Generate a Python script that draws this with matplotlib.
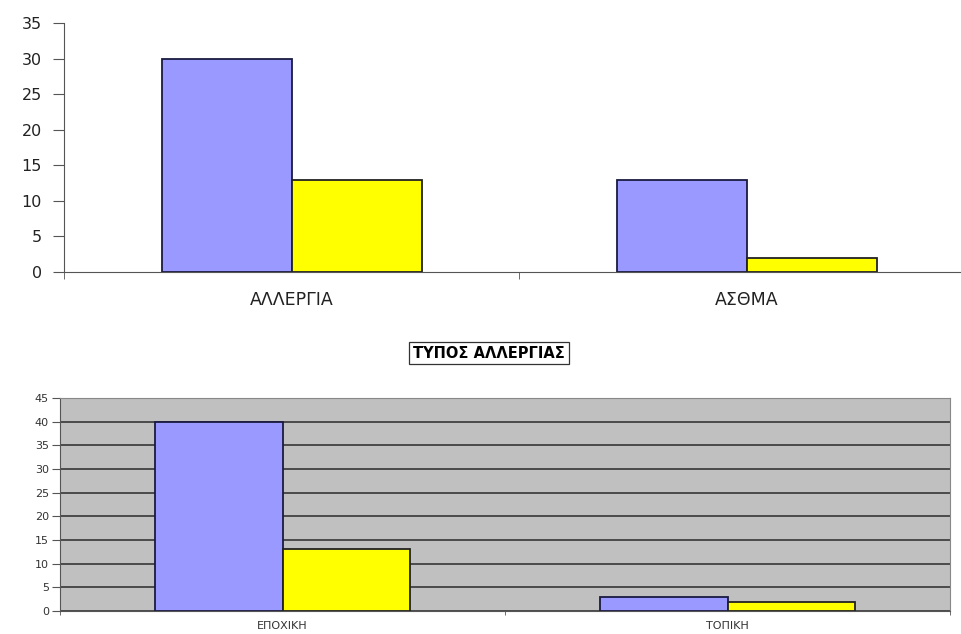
import matplotlib.pyplot as plt
import numpy as np

# top chart data
top_cats = ["ΑΛΛΕΡΓΙΑ", "ΑΣΘΜΑ"]
top_blue = [30, 13]
top_yellow = [13, 2]

# bottom chart data
bot_title = "ΤΥΠΟΣ ΑΛΛΕΡΓΙΑΣ"
bot_cats = ["ΕΠΟΧΙΚΗ", "ΤΟΠΙΚΗ"]
bot_blue = [40, 3]
bot_yellow = [13, 2]

blue = "#9999FF"
yellow = "#FFFF00"
edge = "#1a1a40"
w = 1 / 3.5

plt.rcParams['font.family'] = ['DejaVu Sans']

fig = plt.figure(figsize=(9.61, 6.34), dpi=100)

# --- top chart
ax1 = fig.add_axes([64/961, 1 - 272/634, 910/961, 249/634])
x = np.arange(len(top_cats))
ax1.bar(x - w/2, top_blue, w, color=blue, edgecolor=edge, linewidth=1.3)
ax1.bar(x + w/2, top_yellow, w, color=yellow, edgecolor="#222222", linewidth=1.3)
ax1.set_xlim(-0.5, 1.5)
ax1.set_ylim(0, 35)
ax1.set_yticks(range(0, 36, 5))
ax1.set_xticks(x)
ax1.set_xticklabels(top_cats, fontsize=12.5, color="#222222")
ax1.set_xticks([-0.5, 0.5, 1.5], minor=True)
ax1.tick_params(axis='x', which='major', length=0, pad=14)
ax1.tick_params(axis='x', which='minor', length=5, color="#555555", direction='out')
ax1.tick_params(axis='y', length=8, color="#555555", labelsize=11.5, labelcolor="#222222", pad=8)
for s in ["top", "right"]:
    ax1.spines[s].set_visible(False)
for s in ["left", "bottom"]:
    ax1.spines[s].set_color("#555555")

# --- bottom chart
ax2 = fig.add_axes([60/961, 23/634, 890/961, 213/634])
ax2.set_facecolor("#C0C0C0")
ax2.set_axisbelow(True)
ax2.grid(axis='y', color="#2a2a2a", linewidth=1.1)
x2 = np.arange(len(bot_cats))
ax2.bar(x2 - w/2, bot_blue, w, color=blue, edgecolor=edge, linewidth=1.3)
ax2.bar(x2 + w/2, bot_yellow, w, color=yellow, edgecolor="#222222", linewidth=1.3)
ax2.set_xlim(-0.5, 1.5)
ax2.set_ylim(0, 45)
ax2.set_yticks(range(0, 46, 5))
ax2.set_xticks(x2)
ax2.set_xticklabels(bot_cats, fontsize=8, color="#333333")
ax2.set_xticks([-0.5, 0.5, 1.5], minor=True)
ax2.tick_params(axis='x', which='major', length=0, pad=7)
ax2.tick_params(axis='x', which='minor', length=3, color="#555555")
ax2.tick_params(axis='y', length=6, color="#555555", labelsize=8, labelcolor="#333333", pad=2)
for s in ["top", "right"]:
    ax2.spines[s].set_color("#888888")
for s in ["left", "bottom"]:
    ax2.spines[s].set_color("#555555")

fig.text(489/961, 1 - 353/634, bot_title, ha='center', va='center',
         fontsize=10.5, fontweight='bold',
         bbox=dict(boxstyle='square,pad=0.25', facecolor='white', edgecolor='#333333', linewidth=0.9))

fig.savefig("out.png", dpi=100)
